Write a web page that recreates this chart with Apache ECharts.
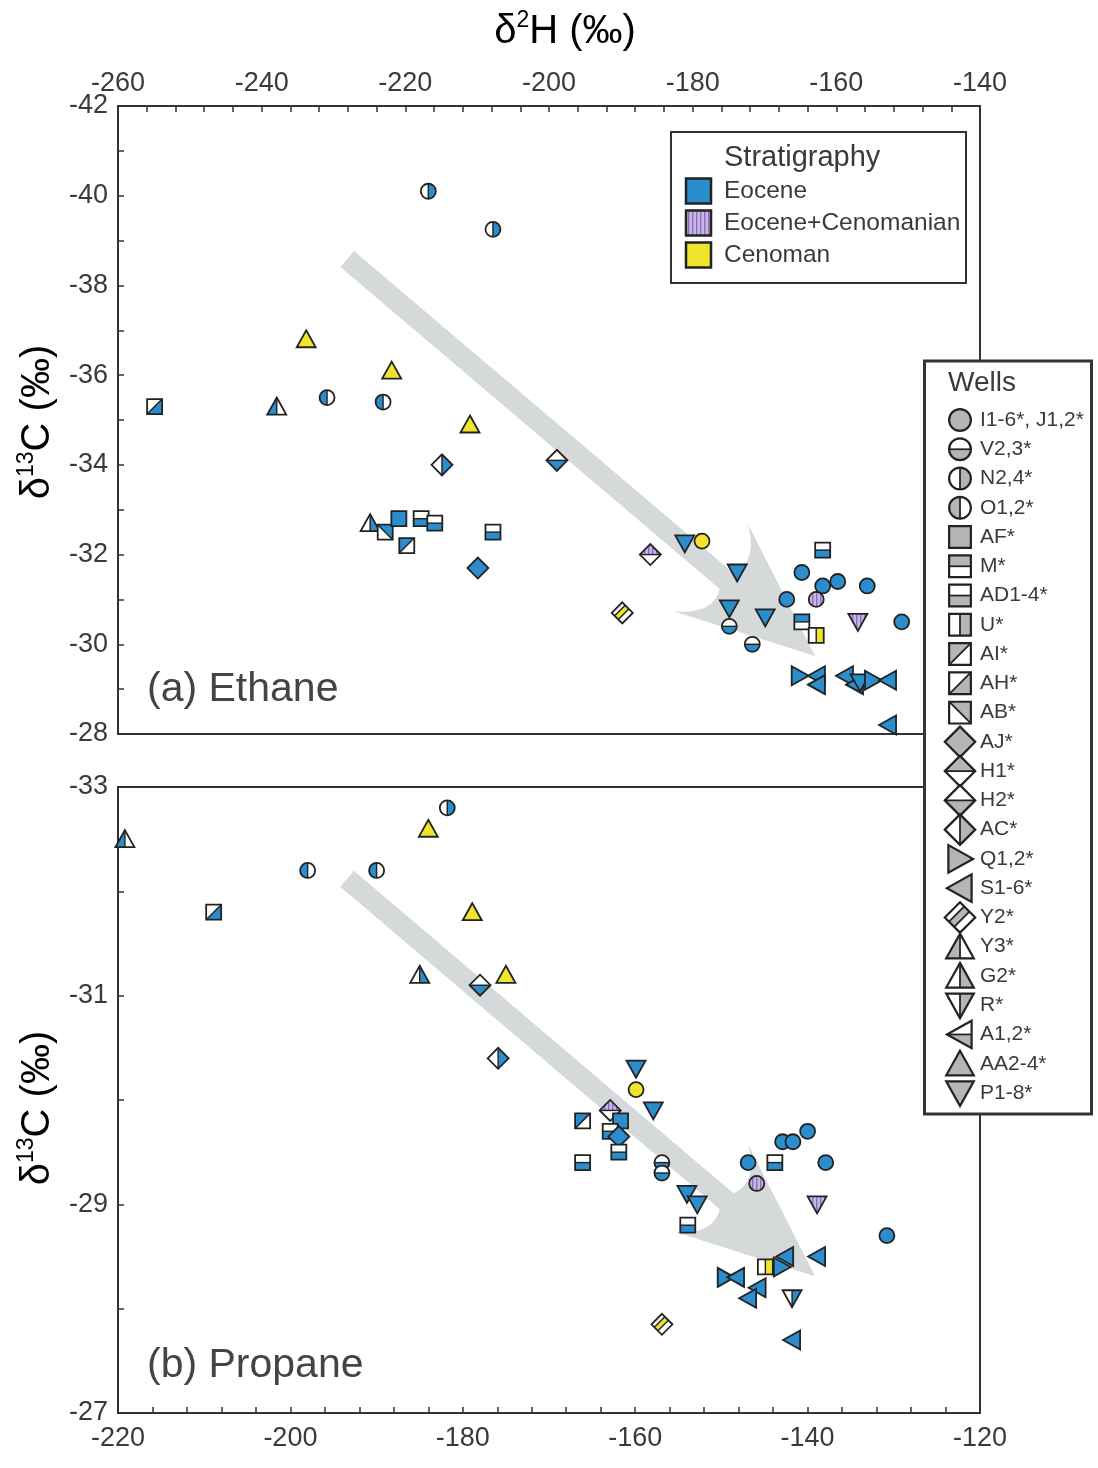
<!DOCTYPE html>
<html>
<head>
<meta charset="utf-8">
<title>Ethane and propane isotopes</title>
<script src="https://cdn.jsdelivr.net/npm/echarts@6/dist/echarts.min.js"></script>
<style>
html,body{margin:0;padding:0;background:#fff}
#chart{width:1098px;height:1468px}
</style>
</head>
<body>
<div id="chart"></div>
<script>
// (a) ethane
var ethaneD2H = [-254.9,-237.9,-233.8,-230.9,-223.1,-221.9,-216.8,-207.8,-211.0,-214.9,-198.9,-224.9,-222.8,-220.9,-217.8,-215.9,-219.8,-207.8,-209.9,-185.9,-181.1,-178.7,-189.8,-173.8,-174.9,-174.9,-169.9,-171.7,-164.8,-166.9,-161.9,-159.8,-155.7,-150.9,-162.8,-161.9,-164.8,-162.8,-157.0,-165.1,-162.7,-162.7,-158.8,-157.4,-156.7,-154.9,-152.8,-152.8];
var ethaneC13 = [-35.3,-35.3,-36.8,-35.5,-35.4,-36.1,-40.1,-39.25,-34.9,-34.0,-34.1,-32.7,-32.5,-32.8,-32.8,-32.7,-32.2,-32.5,-31.7,-32.0,-32.25,-32.3,-30.7,-31.6,-30.8,-30.4,-30.6,-30.0,-31.6,-31.0,-31.3,-31.4,-31.3,-30.5,-31.0,-32.1,-30.5,-30.2,-30.5,-29.3,-29.3,-29.1,-29.3,-29.1,-29.15,-29.2,-29.2,-28.2];
var ethaneWell = ['AH','Y3','AA','O','O','AA','N','N','AA','AC','H2','G2','AB','AF','AD','AD','AI','AD','AJ','H1','P','I','Y2','P','P','V','P','V','I','I','I','I','I','I','I','AD','M','U','P','Q','S','S','S','S','P','Q','S','S'];
var ethaneStrat = ['E','E','C','E','E','C','E','E','C','E','E','E','E','E','E','E','E','E','E','EC','E','C','C','E','E','E','E','E','E','E','E','E','E','E','EC','E','E','C','EC','E','E','E','E','E','E','E','E','E'];

// (b) propane
var propaneD2H = [-219.2,-181.8,-184.0,-198.0,-190.0,-208.9,-178.9,-185.0,-178.0,-175.0,-175.9,-159.9,-159.9,-157.9,-162.9,-166.1,-161.7,-162.9,-161.9,-161.9,-166.1,-143.8,-156.9,-156.9,-154.0,-152.8,-153.9,-146.9,-142.9,-141.7,-140.0,-137.9,-145.9,-138.9,-130.8,-138.9,-142.6,-143.0,-144.9,-149.5,-148.3,-145.8,-146.9,-141.8,-156.9,-141.8];
var propaneC13 = [-32.5,-32.8,-32.6,-32.2,-32.2,-31.8,-31.8,-31.2,-31.1,-31.2,-30.4,-30.3,-30.1,-29.9,-29.9,-29.8,-29.8,-29.7,-29.65,-29.5,-29.4,-29.4,-29.4,-29.3,-29.1,-29.0,-28.8,-29.4,-29.6,-29.6,-29.7,-29.4,-29.2,-29.0,-28.7,-28.5,-28.5,-28.4,-28.4,-28.3,-28.3,-28.2,-28.1,-28.1,-27.85,-27.7];
var propaneWell = ['Y3','N','AA','O','O','AH','AA','G2','H2','AA','AC','P','I','P','H1','AI','AF','AD','AJ','AD','AD','AD','V','V','P','P','AD','I','I','I','I','I','I','P','I','S','S','Q','U','Q','S','S','S','R','Y2','S'];
var propaneStrat = ['E','E','C','E','E','E','C','E','E','C','E','E','C','E','EC','E','E','E','E','E','E','E','E','E','E','E','E','E','E','E','E','E','EC','EC','E','E','E','E','C','E','E','E','E','E','C','E'];

// trend arrows: [start d2H, start d13C, tip d2H, tip d13C]
var arrowEthane = [-228.1, -38.59, -162.97, -29.74];
var arrowPropane = [-193.43, -32.12, -139.14, -28.31];

// legends
var wellCodes = ['I','V','N','O','AF','M','AD','U','AI','AH','AB','AJ','H1','H2','AC','Q','S','Y2','Y3','G2','R','A','AA','P'];
var wellLabels = ['I1-6*, J1,2*','V2,3*','N2,4*','O1,2*','AF*','M*','AD1-4*','U*','AI*','AH*','AB*','AJ*','H1*','H2*','AC*','Q1,2*','S1-6*','Y2*','Y3*','G2*','R*','A1,2*','AA2-4*','P1-8*'];
var stratCodes = ['E','EC','C'];
var stratNames = ['Eocene','Eocene+Cenomanian','Cenoman'];

var FONT = "'Liberation Sans', Arial, Helvetica, sans-serif";
var TXT = '#3a3a3a';
var INK = '#222';

function stripes() {
  var c = document.createElement('canvas');
  c.width = 4; c.height = 4;
  var g = c.getContext('2d');
  g.fillStyle = '#c8b6e4'; g.fillRect(0, 0, 4, 4);
  g.fillStyle = '#8a6fbf'; g.fillRect(0, 0, 1.4, 4);
  return {image: c, repeat: 'repeat'};
}
var stratFill = {E: '#2b8dcc', EC: stripes(), C: '#f1e42c'};

// marker geometry
var PI = Math.PI, R = 7.5, H = 7.5, D = 10.5, TA = 9, TB = 8, TW = 9.5;
var SQ = [[-H,-H],[H,-H],[H,H],[-H,H]];
var DM = [[-D,0],[0,-D],[D,0],[0,D]];
var TU = [[0,-TA],[TW,TB],[-TW,TB]];
var TD = [[0,TA],[-TW,-TB],[TW,-TB]];
var TL = [[-TA,0],[TB,-TW],[TB,TW]];
var TR = [[TA,0],[-TB,-TW],[-TB,TW]];
var b0 = 0.28, b1 = 0.62;
var SHAPES = {
  I: {c: 1},
  V: {c: 1, sec: [0, PI], ln: [[-R,0,R,0]]},
  N: {c: 1, sec: [-PI/2, PI/2], ln: [[0,-R,0,R]]},
  O: {c: 1, sec: [PI/2, PI*1.5], ln: [[0,-R,0,R]]},
  AF: {o: SQ},
  M: {o: SQ, p: [[-H,-H],[H,-H],[H,0],[-H,0]], ln: [[-H,0,H,0]]},
  AD: {o: SQ, p: [[-H,0],[H,0],[H,H],[-H,H]], ln: [[-H,0,H,0]]},
  U: {o: SQ, p: [[0,-H],[H,-H],[H,H],[0,H]], ln: [[0,-H,0,H]]},
  AI: {o: SQ, p: [[-H,-H],[H,-H],[-H,H]], ln: [[-H,H,H,-H]]},
  AH: {o: SQ, p: [[H,-H],[H,H],[-H,H]], ln: [[-H,H,H,-H]]},
  AB: {o: SQ, p: [[-H,-H],[H,-H],[H,H]], ln: [[-H,-H,H,H]]},
  AJ: {o: DM},
  H1: {o: DM, p: [[-D,0],[0,-D],[D,0]], ln: [[-D,0,D,0]]},
  H2: {o: DM, p: [[-D,0],[0,D],[D,0]], ln: [[-D,0,D,0]]},
  AC: {o: DM, p: [[0,-D],[D,0],[0,D]], ln: [[0,-D,0,D]]},
  Q: {o: TR},
  S: {o: TL},
  Y2: {o: DM, p: [[-(1-b0)*D,b0*D],[b0*D,-(1-b0)*D],[b1*D,-(1-b1)*D],[-(1-b1)*D,b1*D]],
       ln: [[-(1-b0)*D,b0*D,b0*D,-(1-b0)*D],[-(1-b1)*D,b1*D,b1*D,-(1-b1)*D]]},
  Y3: {o: TU, p: [[0,-TA],[0,TB],[-TW,TB]], ln: [[0,-TA,0,TB]]},
  G2: {o: TU, p: [[0,-TA],[TW,TB],[0,TB]], ln: [[0,-TA,0,TB]]},
  R: {o: TD, p: [[0,TA],[TW,-TB],[0,-TB]], ln: [[0,TA,0,-TB]]},
  A: {o: TL, p: [[-TA,0],[TB,0],[TB,TW]], ln: [[-TA,0,TB,0]]},
  AA: {o: TU},
  P: {o: TD}
};

function markerParts(kind, cx, cy, s, fill, lw) {
  var d = SHAPES[kind], out = [];
  var tp = function (pts) { return pts.map(function (q) { return [cx + q[0]*s, cy + q[1]*s]; }); };
  var whole = !d.sec && !d.p;
  if (d.c) {
    out.push({type: 'circle', shape: {cx: cx, cy: cy, r: R*s}, style: {fill: whole ? fill : '#fff'}});
    if (d.sec) out.push({type: 'sector', shape: {cx: cx, cy: cy, r0: 0, r: R*s, startAngle: d.sec[0], endAngle: d.sec[1], clockwise: true}, style: {fill: fill}});
  } else {
    out.push({type: 'polygon', shape: {points: tp(d.o)}, style: {fill: whole ? fill : '#fff'}});
    if (d.p) out.push({type: 'polygon', shape: {points: tp(d.p)}, style: {fill: fill}});
  }
  (d.ln || []).forEach(function (l) {
    out.push({type: 'line', shape: {x1: cx + l[0]*s, y1: cy + l[1]*s, x2: cx + l[2]*s, y2: cy + l[3]*s}, style: {stroke: INK, lineWidth: lw*0.8, fill: 'none'}});
  });
  if (d.c) out.push({type: 'circle', shape: {cx: cx, cy: cy, r: R*s}, style: {fill: 'none', stroke: INK, lineWidth: lw}});
  else out.push({type: 'polygon', shape: {points: tp(d.o)}, style: {fill: 'none', stroke: INK, lineWidth: lw, lineJoin: 'miter'}});
  return out;
}

function arrowOutline(a, b) {
  var dx = b[0]-a[0], dy = b[1]-a[1], L = Math.hypot(dx, dy);
  var ux = dx/L, uy = dy/L, nx = -uy, ny = ux;
  var P = function (al, bl) { return [b[0] + ux*al + nx*bl, b[1] + uy*al + ny*bl]; };
  var w = 10.5, back = -116, wa = -136, wb = 57, ca = -104, cb = 34;
  var pts = [P(-L, -w), P(back, -w)], t, i;
  for (i = 1; i <= 10; i++) {
    t = i/10;
    pts.push(P((1-t)*(1-t)*back + 2*t*(1-t)*ca + t*t*wa, -((1-t)*(1-t)*w + 2*t*(1-t)*cb + t*t*wb)));
  }
  pts.push(P(0, 0));
  for (i = 0; i <= 9; i++) {
    t = i/10;
    pts.push(P((1-t)*(1-t)*wa + 2*t*(1-t)*ca + t*t*back, (1-t)*(1-t)*wb + 2*t*(1-t)*cb + t*t*w));
  }
  pts.push(P(back, w), P(-L, w));
  return pts;
}

function markerSeries(idx, xs, ys, wells, strats) {
  return {
    type: 'custom', xAxisIndex: idx, yAxisIndex: idx, z: 3, silent: true, clip: false,
    encode: {x: 0, y: 1},
    data: xs.map(function (v, i) { return [v, ys[i]]; }),
    renderItem: function (params, api) {
      var p = api.coord([api.value(0), api.value(1)]);
      var i = params.dataIndex;
      return {type: 'group', children: markerParts(wells[i], p[0], p[1], 1, stratFill[strats[i]], 1.8)};
    }
  };
}

function arrowSeries(idx, arr) {
  return {
    type: 'custom', xAxisIndex: idx, yAxisIndex: idx, z: 1, silent: true, clip: false,
    encode: {x: [0, 2], y: [1, 3]},
    data: [arr],
    renderItem: function (params, api) {
      var a = api.coord([api.value(0), api.value(1)]);
      var b = api.coord([api.value(2), api.value(3)]);
      return {type: 'polygon', shape: {points: arrowOutline(a, b)}, style: {fill: '#d6d9da'}};
    }
  };
}

function xAxis(idx, pos, min, max, margin) {
  return {
    gridIndex: idx, type: 'value', position: pos, min: min, max: max, interval: 20,
    axisLine: {show: true, onZero: false, lineStyle: {color: '#333', width: 2}},
    axisTick: {show: true, inside: true, length: 6, lineStyle: {color: '#333', width: 1.5}},
    minorTick: {show: true, splitNumber: 5, length: 6, lineStyle: {color: '#333', width: 1.5}},
    axisLabel: {fontSize: 27, color: TXT, fontFamily: FONT, margin: margin, showMinLabel: true, showMaxLabel: true},
    splitLine: {show: false}, minorSplitLine: {show: false}
  };
}

function txt(text, x, y, size, color) {
  return {type: 'text', style: {text: text, x: x, y: y, font: size + 'px ' + FONT, fill: color || TXT,
    align: 'left', verticalAlign: 'middle', textAlign: 'left', textVerticalAlign: 'middle'}};
}

// legend graphics
var legend = [];
legend.push({type: 'rect', shape: {x: 671, y: 132, width: 295, height: 151}, style: {fill: '#fff', stroke: '#333', lineWidth: 2}});
legend.push(txt('Stratigraphy', 724, 158, 29));
stratCodes.forEach(function (c, i) {
  var cy = 191 + i*32;
  legend.push({type: 'rect', shape: {x: 686, y: cy - 12.5, width: 25, height: 25}, style: {fill: stratFill[c], stroke: INK, lineWidth: 2.5}});
  legend.push(txt(stratNames[i], 724, cy, 24.5));
});
legend.push({type: 'rect', shape: {x: 924.5, y: 361, width: 167, height: 753}, style: {fill: '#fff', stroke: '#333', lineWidth: 3}});
legend.push(txt('Wells', 948, 383, 28));
wellCodes.forEach(function (c, i) {
  var cy = 420 + i*29.26;
  markerParts(c, 960, cy, 1.45, '#b5b5b5', 2.2).forEach(function (e) { legend.push(e); });
  legend.push(txt(wellLabels[i], 980, cy, 21));
});

var richTitle = {a: {fontSize: 40, fontFamily: FONT, color: TXT, lineHeight: 46}, s: {fontSize: 23, fontFamily: FONT, color: TXT, verticalAlign: 'top', lineHeight: 46}};
var titles = [
  {type: 'text', style: {text: '{a|δ}{s|2}{a|H (‰)}', x: 565, y: 32, align: 'center', verticalAlign: 'middle', textAlign: 'center', textVerticalAlign: 'middle', rich: richTitle}},
  {type: 'text', x: 38, y: 422, rotation: PI/2, style: {text: '{a|δ}{s|13}{a|C (‰)}', x: 0, y: 0, align: 'center', verticalAlign: 'middle', textAlign: 'center', textVerticalAlign: 'middle', rich: richTitle}},
  {type: 'text', x: 38, y: 1108, rotation: PI/2, style: {text: '{a|δ}{s|13}{a|C (‰)}', x: 0, y: 0, align: 'center', verticalAlign: 'middle', textAlign: 'center', textVerticalAlign: 'middle', rich: richTitle}},
  txt('(a) Ethane', 147, 690, 41, '#444'),
  txt('(b) Propane', 147, 1366, 41, '#444')
];

var chart = echarts.init(document.getElementById('chart'), null, {renderer: 'canvas'});
chart.setOption({
  animation: false,
  backgroundColor: '#fff',
  grid: [
    {left: 118, top: 106, width: 862, height: 628, show: true, borderColor: '#333', borderWidth: 2, backgroundColor: 'transparent'},
    {left: 118, top: 787, width: 862, height: 626, show: true, borderColor: '#333', borderWidth: 2, backgroundColor: 'transparent'}
  ],
  xAxis: [
    xAxis(0, 'top', -260, -140, 9),
    xAxis(1, 'bottom', -220, -120, 12)
  ],
  yAxis: [
    {
      gridIndex: 0, type: 'value', inverse: true, min: -42, max: -28, interval: 2,
      axisLine: {show: true, onZero: false, lineStyle: {color: '#333', width: 2}},
      axisTick: {show: true, inside: true, length: 6, lineStyle: {color: '#333', width: 1.5}},
      minorTick: {show: true, splitNumber: 2, length: 6, lineStyle: {color: '#333', width: 1.5}},
      axisLabel: {fontSize: 27, color: TXT, fontFamily: FONT, margin: 10, showMinLabel: true, showMaxLabel: true},
      splitLine: {show: false}, minorSplitLine: {show: false}
    },
    {
      gridIndex: 1, type: 'value', inverse: true, min: -33, max: -27, interval: 1,
      axisLine: {show: true, onZero: false, lineStyle: {color: '#333', width: 2}},
      axisTick: {show: true, inside: true, length: 6, lineStyle: {color: '#333', width: 1.5}},
      axisLabel: {fontSize: 27, color: TXT, fontFamily: FONT, margin: 10, showMinLabel: true, showMaxLabel: true,
        formatter: function (v) { return Math.abs(Math.round(v)) % 2 === 1 ? String(v) : ''; }},
      splitLine: {show: false}
    }
  ],
  graphic: [
    {type: 'group', z: 10, silent: true, children: titles},
    {type: 'group', z: 100, silent: true, children: legend}
  ],
  series: [
    arrowSeries(0, arrowEthane),
    arrowSeries(1, arrowPropane),
    markerSeries(0, ethaneD2H, ethaneC13, ethaneWell, ethaneStrat),
    markerSeries(1, propaneD2H, propaneC13, propaneWell, propaneStrat)
  ]
});
</script>
</body>
</html>
